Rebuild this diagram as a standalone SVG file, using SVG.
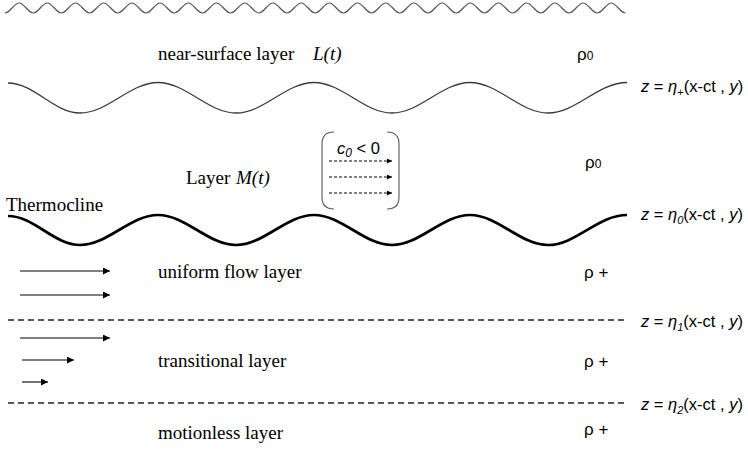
<svg xmlns="http://www.w3.org/2000/svg" width="748" height="452" viewBox="0 0 748 452">
<style>
.serif{font-family:"Liberation Serif","Times New Roman",serif;font-size:19px;fill:#000}
.sans{font-family:"Liberation Sans",Arial,sans-serif;font-size:16.5px;fill:#000}
.rho{font-family:"Liberation Sans",Arial,sans-serif;font-size:17px;fill:#000}
.it{font-style:italic}
.dash{stroke:#222;stroke-width:1.6;stroke-dasharray:6 4;fill:none}
.arr{stroke:#000;stroke-width:1.1;fill:none;marker-end:url(#ah)}
.darr{stroke:#000;stroke-width:1;stroke-dasharray:3 2;fill:none;marker-end:url(#ahs)}
</style>
<defs>
<marker id="ah" viewBox="0 0 10 10" refX="10" refY="5" markerWidth="9" markerHeight="7" orient="auto" markerUnits="userSpaceOnUse"><path d="M0,0 L10,5 L0,10 z" fill="#000"/></marker>
<marker id="ahs" viewBox="0 0 10 10" refX="10" refY="5" markerWidth="7" markerHeight="5" orient="auto" markerUnits="userSpaceOnUse"><path d="M0,0 L10,5 L0,10 z" fill="#000"/></marker>
</defs>
<rect width="748" height="452" fill="#fff"/>

<g id="surface">
<path d="M5,13 c5.1,0 9,-10 14.1,-10 c5.1,0 9,10 14.1,10 c5.1,0 9,-10 14.1,-10 c5.1,0 9,10 14.1,10 c5.1,0 9,-10 14.1,-10 c5.1,0 9,10 14.1,10 c5.1,0 9,-10 14.1,-10 c5.1,0 9,10 14.1,10 c5.1,0 9,-10 14.1,-10 c5.1,0 9,10 14.1,10 c5.1,0 9,-10 14.1,-10 c5.1,0 9,10 14.1,10 c5.1,0 9,-10 14.1,-10 c5.1,0 9,10 14.1,10 c5.1,0 9,-10 14.1,-10 c5.1,0 9,10 14.1,10 c5.1,0 9,-10 14.1,-10 c5.1,0 9,10 14.1,10 c5.1,0 9,-10 14.1,-10 c5.1,0 9,10 14.1,10 c5.1,0 9,-10 14.1,-10 c5.1,0 9,10 14.1,10 c5.1,0 9,-10 14.1,-10 c5.1,0 9,10 14.1,10 c5.1,0 9,-10 14.1,-10 c5.1,0 9,10 14.1,10 c5.1,0 9,-10 14.1,-10 c5.1,0 9,10 14.1,10 c5.1,0 9,-10 14.1,-10 c5.1,0 9,10 14.1,10 c5.1,0 9,-10 14.1,-10 c5.1,0 9,10 14.1,10 c5.1,0 9,-10 14.1,-10 c5.1,0 9,10 14.1,10 c5.1,0 9,-10 14.1,-10 c5.1,0 9,10 14.1,10 c5.1,0 9,-10 14.1,-10 c5.1,0 9,10 14.1,10 c5.1,0 9,-10 14.1,-10 c5.1,0 9,10 14.1,10 c5.1,0 9,-10 14.1,-10 c5.1,0 9,10 14.1,10 c5.1,0 9,-10 14.1,-10 c5.1,0 9,10 14.1,10" fill="none" stroke="#555" stroke-width="1.2"/>
</g>

<g id="near-surface-layer">
<text class="serif" x="158" y="60">near-surface layer</text>
<text class="serif it" x="313" y="60">L(t)</text>
<text class="rho" x="577" y="60">ρ<tspan font-size="12">0</tspan></text>
</g>

<g id="eta-plus">
<path d="M8,83 C34,83 54,113 80,113 C108,113 130,82.5 158,82.5 C186,82.5 208,113 236,113 C264,113 286,82.5 314,82.5 C342,82.5 364,113 392,113 C420,113 442,82.5 470,82.5 C498,82.5 520,113 548,113 C576,113 598,82.5 627,82.5" fill="none" stroke="#3a3a3a" stroke-width="1.3"/>
<text class="sans" x="641" y="92"><tspan class="it">z</tspan> = <tspan class="it">η</tspan><tspan font-size="11" dy="4">+</tspan><tspan dy="-4">(x-ct , </tspan><tspan class="it">y</tspan>)</text>
</g>

<g id="layer-M">
<text class="serif" x="186" y="184">Layer</text>
<text class="serif it" x="236" y="184">M(t)</text>
<text class="rho" x="585" y="168">ρ<tspan font-size="12">0</tspan></text>
</g>

<g id="c0-box">
<path d="M334,132 Q322,132 322,144 L322,197 Q322,209 334,209" fill="none" stroke="#555" stroke-width="1.1"/>
<path d="M387,132 Q399,132 399,144 L399,197 Q399,209 387,209" fill="none" stroke="#555" stroke-width="1.1"/>
<text class="sans" x="337" y="154" font-size="17"><tspan class="it">c</tspan><tspan class="it" font-size="12" dy="3">0</tspan><tspan dy="-3"> &lt; 0</tspan></text>
</g>

<g id="thermocline">
<text class="serif" x="6" y="211">Thermocline</text>
<path d="M8,216 C34,216 54,245 80,245 C108,245 130,215 158,215 C186,215 208,245 236,245 C264,245 286,215 314,215 C342,215 364,245 392,245 C420,245 442,215 470,215 C498,215 520,245 548,245 C576,245 598,215 627,215" fill="none" stroke="#000" stroke-width="2.7"/>
<text class="sans" x="641" y="220"><tspan class="it">z</tspan> = <tspan class="it">η</tspan><tspan class="it" font-size="11" dy="4">0</tspan><tspan dy="-4">(x-ct , </tspan><tspan class="it">y</tspan>)</text>
</g>

<g id="uniform-flow-layer">
<text class="serif" x="158" y="278">uniform flow layer</text>
<text class="rho" x="584" y="278">ρ +</text>
</g>

<g id="eta-1">
<line class="dash" x1="8" y1="320" x2="628" y2="320"/>
<text class="sans" x="641" y="327"><tspan class="it">z</tspan> = <tspan class="it">η</tspan><tspan class="it" font-size="11" dy="4">1</tspan><tspan dy="-4">(x-ct , </tspan><tspan class="it">y</tspan>)</text>
</g>

<g id="transitional-layer">
<text class="serif" x="158" y="367">transitional layer</text>
<text class="rho" x="584" y="367">ρ +</text>
</g>

<g id="eta-2">
<line class="dash" x1="8" y1="403" x2="628" y2="403"/>
<text class="sans" x="641" y="410"><tspan class="it">z</tspan> = <tspan class="it">η</tspan><tspan class="it" font-size="11" dy="4">2</tspan><tspan dy="-4">(x-ct , </tspan><tspan class="it">y</tspan>)</text>
</g>

<g id="motionless-layer">
<text class="serif" x="158" y="439">motionless layer</text>
<text class="rho" x="584" y="435">ρ +</text>
</g>

<g id="connectors">
<line class="darr" x1="329" y1="161" x2="392" y2="161"/>
<line class="darr" x1="329" y1="177" x2="392" y2="177"/>
<line class="darr" x1="329" y1="193" x2="392" y2="193"/>
<line class="arr" x1="20" y1="271" x2="110" y2="271"/>
<line class="arr" x1="20" y1="295" x2="110" y2="295"/>
<line class="arr" x1="20" y1="338" x2="110" y2="338"/>
<line class="arr" x1="22" y1="360" x2="74" y2="360"/>
<line class="arr" x1="22" y1="382" x2="48" y2="382"/>
</g>
</svg>
